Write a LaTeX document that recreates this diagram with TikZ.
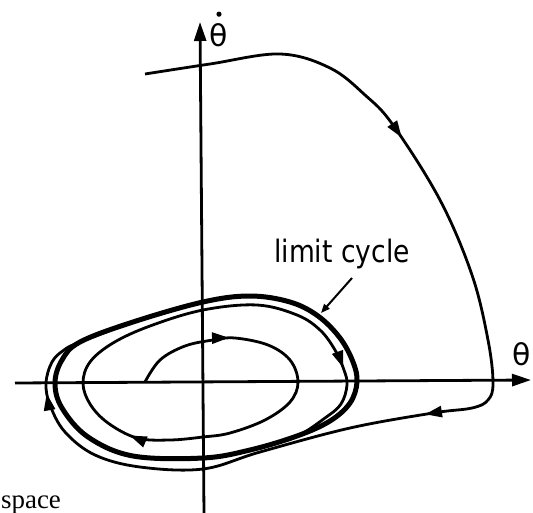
\documentclass[tikz,border=0pt]{standalone}
\usepackage{fontspec}
\setmainfont{DejaVu Sans}
\newfontfamily\serifface{Liberation Serif}
\usetikzlibrary{arrows.meta,decorations.markings}
\tikzset{
  x=1bp, y=-1bp,
  axisline/.style={line width=2.8bp},
  trajline/.style={line width=2.8bp, line join=round},
  cycleline/.style={line width=5bp, line join=round},
  midarrow/.style={postaction={decorate, decoration={markings,
      mark=at position #1 with {\arrow{Triangle[length=17bp,width=11bp]}}}}},
  axislabel/.style={inner sep=0pt, font=\fontsize{30}{30}\selectfont},
}
\begin{document}
\begin{tikzpicture}
\useasboundingbox (0,0) rectangle (533,513);
% axes
\coordinate (xl) at (15,383);
\coordinate (xr) at (531,380);
\coordinate (yb) at (204,515);
\coordinate (yt) at (200,22);
\draw[axisline,-{Triangle[length=19bp,width=12bp]}] (xl) -- (xr);
\draw[axisline,-{Triangle[length=19bp,width=12bp]}] (yb) -- (yt);
\node[axislabel] (th) at (522,354) {θ};
\node[axislabel] (thd) at (219,35) {θ};
\fill ([yshift=9bp]thd.north) circle (2.6bp);
% limit cycle
\draw[cycleline] plot[smooth cycle, tension=0.6] coordinates {
 (203,302) (250,296) (290,302) (318,316) (340,338) (353,362) (357,382)
 (350,403) (330,421) (297,436) (250,450) (203,458) (133,456) (88,437)
 (62,408) (55,383) (62,360) (80,342) (133,322)};
% outer trajectory
\draw[trajline, midarrow=0.245, midarrow=0.54, midarrow=0.895] plot[smooth, tension=0.6] coordinates {
 (145,74) (210,64) (280,54) (330,68) (365,95) (393,125) (440,200)
 (472,275) (488,340) (493,383) (488,400) (472,408) (433,413)
 (350,428) (260,452) (203,469) (140,467) (95,455) (65,432) (50,405)
 (46,383) (52,362) (64,350) (80,342) (133,322)};
% inner trajectory
\draw[trajline, midarrow=0.111, midarrow=0.423, midarrow=0.855] plot[smooth, tension=0.6] coordinates {
 (145,382) (160,360) (185,346) (213,340) (235,338) (268,345) (290,360)
 (298,382) (290,402) (265,420) (230,433) (203,437) (170,440) (137,438)
 (108,423) (90,404) (83,383) (90,362) (113,343) (150,326) (203,310)
 (257,305) (297,315) (320,330) (335,350) (344,370) (347,385) (341,404)
 (325,418) (297,436) (260,447)};
% label
\node[inner sep=0pt, anchor=base, font=\fontsize{31}{31}\selectfont] (lc) at (342,262)
  {\scalebox{0.86}[1]{limit cycle}};
\coordinate (lcs) at (352,278);
\coordinate (lce) at (321,313);
\draw[line width=2bp, -{Triangle[length=9bp,width=7bp]}] (lcs) -- (lce);
% caption fragment
\node[inner sep=0pt, anchor=base west, font=\serifface\fontsize{27}{27}\selectfont] (cap) at (1,508) {space};
\end{tikzpicture}
\end{document}
